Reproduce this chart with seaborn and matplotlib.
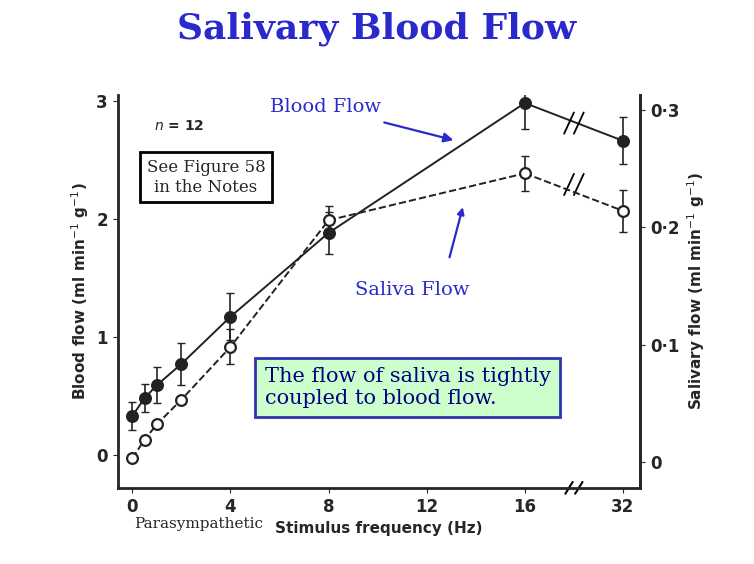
import numpy as np
import pandas as pd
import seaborn as sns
import matplotlib.pyplot as plt

freq = [0, 0.5, 1, 2, 4, 8, 16, 32]
blood = [0.33, 0.48, 0.59, 0.77, 1.17, 1.88, 2.98, 2.66]
blood_err = [0.12, 0.12, 0.15, 0.18, 0.2, 0.18, 0.22, 0.2]
saliva = [0.003, 0.019, 0.032, 0.053, 0.098, 0.206, 0.246, 0.214]
saliva_err = [0.0, 0.0, 0.0, 0.0, 0.015, 0.012, 0.015, 0.018]
xtick_labels = ["0", "4", "8", "12", "16", "32"]
xtick_vals = [0, 4, 8, 12, 16, 32]


def pos(f):
    # axis is broken between 16 and 32
    return f if f <= 16 else 20


df = pd.DataFrame({"x": [pos(f) for f in freq], "blood": blood, "saliva": saliva})

sns.set_style("ticks")
fig = plt.figure(figsize=(7.54, 5.64), dpi=100)
ax = fig.add_axes([0.156, 0.135, 0.693, 0.697])
ax2 = ax.twinx()

for a, col, ls, fc, err in [(ax, "blood", "-", "#222222", blood_err),
                            (ax2, "saliva", "--", "white", saliva_err)]:
    sns.lineplot(data=df[df.x <= 16], x="x", y=col, ax=a, color="#222222", linestyle=ls, lw=1.4)
    sns.lineplot(data=df[df.x >= 16], x="x", y=col, ax=a, color="#222222", linestyle=ls, lw=1.4)
    a.errorbar(df.x, df[col], yerr=err, fmt="none", ecolor="#222222", capsize=3, lw=1.2)
    sns.scatterplot(data=df, x="x", y=col, ax=a, color=fc, edgecolor="#222222",
                    s=60, linewidth=1.6, zorder=5)

ax.set_xlim(-0.6, 20.7)
ax.set_ylim(-0.28, 3.05)
ax.set_xticks([pos(v) for v in xtick_vals])
ax.set_xticklabels(xtick_labels, fontweight="bold", fontsize=12)
ax.set_yticks([0, 1, 2, 3])
ax.set_yticklabels(["0", "1", "2", "3"], fontweight="bold", fontsize=12)
ax.set_xlabel("Stimulus frequency (Hz)", fontweight="bold", fontsize=11)
ax.set_ylabel("Blood flow (ml min$^{-1}$ g$^{-1}$)", fontweight="bold", fontsize=11)
for s in ["left", "bottom", "right"]:
    ax.spines[s].set_linewidth(2)
ax.spines["top"].set_visible(False)

ax2.set_ylim(-0.0222, 0.313)
ax2.set_yticks([0, 0.1, 0.2, 0.3])
ax2.set_yticklabels(["0", "0·1", "0·2", "0·3"], fontweight="bold", fontsize=12)
ax2.set_ylabel("Salivary flow (ml min$^{-1}$ g$^{-1}$)", fontweight="bold", fontsize=11)
ax2.spines["right"].set_linewidth(2)
ax2.spines["top"].set_visible(False)

for xb in [17.8, 18.2]:
    ax.plot([xb - 0.15, xb + 0.15], [-0.33, -0.23], color="black", lw=1.5, clip_on=False)
    ax.plot([xb - 0.2, xb + 0.2], [2.72, 2.9], color="black", lw=1.3)
    ax.plot([xb - 0.2, xb + 0.2], [2.2, 2.38], color="black", lw=1.3)

ax.text(0.9, 2.75, "$\\bf{\\it{n}}$ = 12", fontsize=10, fontweight="bold")
ax.text(3.0, 2.35, "See Figure 58\nin the Notes", ha="center", va="center",
        fontsize=12, family="DejaVu Serif",
        bbox=dict(boxstyle="square,pad=0.4", fc="white", ec="black", lw=2))
ax.text(5.4, 0.57, "The flow of saliva is tightly\ncoupled to blood flow.", fontsize=15,
        family="DejaVu Serif", color="#000080", va="center",
        bbox=dict(boxstyle="square,pad=0.45", fc="#ccffcc", ec="#3030b0", lw=2))
blue = "#2a2acc"
ax.annotate("Blood Flow", xy=(13.2, 2.66), xytext=(5.6, 2.9), fontsize=14,
            family="DejaVu Serif", color=blue,
            arrowprops=dict(arrowstyle="-|>", color=blue, lw=1.6, shrinkA=8))
ax.annotate("", xy=(13.5, 2.12), xytext=(12.9, 1.65),
            arrowprops=dict(arrowstyle="-|>", color=blue, lw=1.6))
ax.text(11.4, 1.35, "Saliva Flow", fontsize=14, family="DejaVu Serif", color=blue, ha="center")
ax.text(2.7, -0.62, "Parasympathetic", fontsize=11, family="DejaVu Serif", ha="center")

fig.suptitle("Salivary Blood Flow", y=0.98, fontsize=26, fontweight="bold",
             family="DejaVu Serif", color="#2a2acc")
fig.savefig("out.png", dpi=100)
